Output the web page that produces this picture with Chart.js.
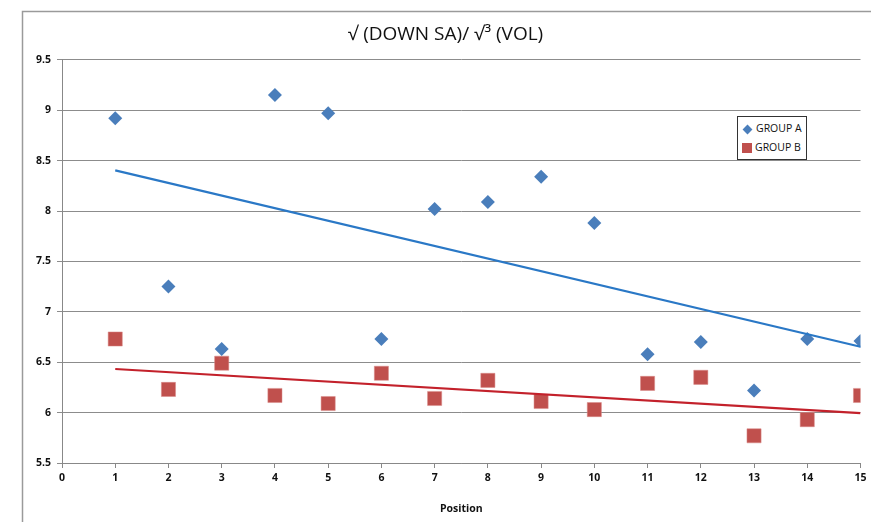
<!DOCTYPE html>
<html>
<head>
<meta charset="utf-8">
<script src="https://cdn.jsdelivr.net/npm/chart.js@4/dist/chart.umd.min.js"></script>
<style>
  html, body { margin: 0; padding: 0; background: #fff; }
  #wrap { position: relative; width: 871px; height: 522px; }
  #legend {
    position: absolute; left: 737px; top: 116px;
    border: 1px solid #333; background: #fff;
    padding: 2px 4px 2px 4px;
    font-family: "Open Sans", "Liberation Sans", sans-serif; font-size: 10.5px; color: #111;
  }
  #legend div { height: 19px; line-height: 19px; white-space: nowrap; }
  #legend span.mk { display: inline-block; vertical-align: middle; margin-right: 3px; }
</style>
</head>
<body>
<div id="wrap">
  <canvas id="chart" width="871" height="522"></canvas>
  <div id="legend"></div>
</div>
<script>
// posizioni (asse x)
var positions = [1, 2, 3, 4, 5, 6, 7, 8, 9, 10, 11, 12, 13, 14, 15];
// valori
var groupA = [8.92, 7.25, 6.63, 9.15, 8.97, 6.73, 8.02, 8.09, 8.34, 7.88, 6.58, 6.70, 6.22, 6.73, 6.71];
var groupB = [6.73, 6.23, 6.49, 6.17, 6.09, 6.39, 6.14, 6.32, 6.11, 6.03, 6.29, 6.35, 5.77, 5.93, 6.17];
var seriesLabels = ['GROUP A', 'GROUP B'];
var chartTitle = '\u221A (DOWN SA)/ \u221A\u00B3 (VOL)';
var xTitle = 'Position';

var blue = '#4a7ebb';
var red = '#c0504d';

function toPoints(xs, ys) {
  return xs.map(function (x, i) { return { x: x, y: ys[i] }; });
}

// linea di tendenza lineare (minimi quadrati), come in Excel
function trend(xs, ys) {
  var n = xs.length, sx = 0, sy = 0, sxy = 0, sxx = 0;
  for (var i = 0; i < n; i++) {
    sx += xs[i]; sy += ys[i]; sxy += xs[i] * ys[i]; sxx += xs[i] * xs[i];
  }
  var m = (n * sxy - sx * sy) / (n * sxx - sx * sx);
  var b = (sy - m * sx) / n;
  var x0 = xs[0], x1 = xs[n - 1];
  return [{ x: x0, y: m * x0 + b }, { x: x1, y: m * x1 + b }];
}

// cornice esterna del grafico
var framePlugin = {
  id: 'frame',
  beforeDraw: function (chart) {
    var ctx = chart.ctx;
    ctx.save();
    ctx.strokeStyle = '#9a9a9a';
    ctx.lineWidth = 1.5;
    ctx.beginPath();
    ctx.moveTo(22.5, 530);
    ctx.lineTo(22.5, 11.5);
    ctx.lineTo(880, 11.5);
    ctx.stroke();
    ctx.restore();
  }
};

var fontFam = '"Open Sans", "Liberation Sans", sans-serif';

new Chart(document.getElementById('chart').getContext('2d'), {
  type: 'scatter',
  data: {
    datasets: [{
      label: seriesLabels[0],
      data: toPoints(positions, groupA),
      pointStyle: 'rectRot',
      pointRadius: 7,
      backgroundColor: blue,
      borderColor: blue,
      borderWidth: 0,
      order: 2
    }, {
      label: seriesLabels[1],
      data: toPoints(positions, groupB),
      pointStyle: 'rect',
      pointRadius: 10,
      backgroundColor: red,
      borderColor: '#d98a88',
      borderWidth: 0.5,
      order: 2
    }, {
      label: 'trend A',
      data: trend(positions, groupA),
      showLine: true,
      borderColor: '#2a78c6',
      borderWidth: 2.2,
      pointRadius: 0,
      order: 1
    }, {
      label: 'trend B',
      data: trend(positions, groupB),
      showLine: true,
      borderColor: '#c3212b',
      borderWidth: 2.2,
      pointRadius: 0,
      order: 1
    }]
  },
  options: {
    responsive: false,
    animation: false,
    layout: { padding: { left: 22, right: 2, top: 0, bottom: 7 } },
    plugins: {
      legend: { display: false },
      tooltip: { enabled: false },
      title: {
        display: true,
        text: chartTitle,
        color: '#111',
        font: { family: fontFam, size: 19, weight: 'normal' },
        padding: { top: 23, bottom: 14 }
      }
    },
    scales: {
      x: {
        type: 'linear',
        min: 0,
        max: 15,
        ticks: {
          stepSize: 1,
          color: '#111',
          font: { family: fontFam, size: 10.5, weight: 'bold' },
          padding: 4
        },
        grid: { drawOnChartArea: false, drawTicks: true, tickLength: 5, color: '#888' },
        border: { color: '#888', width: 1 },
        title: {
          display: true,
          text: xTitle,
          color: '#111',
          font: { family: fontFam, size: 10.5, weight: 'bold' },
          padding: { top: 4, bottom: 0 }
        },
        afterFit: function (s) { s.height = 52; }
      },
      y: {
        min: 5.5,
        max: 9.5,
        ticks: {
          stepSize: 0.5,
          color: '#111',
          font: { family: fontFam, size: 10.5, weight: 'bold' },
          padding: 6,
          callback: function (v) { return String(v); }
        },
        grid: { color: '#8c8c8c', lineWidth: 1, tickLength: 5 },
        border: { color: '#888', width: 1 },
        afterFit: function (s) { s.width = 40; }
      }
    }
  },
  plugins: [framePlugin]
});

// legenda HTML
var legend = document.getElementById('legend');
var marks = [
  '<span class="mk" style="width:7px;height:7px;background:' + blue + ';transform:rotate(45deg);margin-left:2px;margin-right:5px"></span>',
  '<span class="mk" style="width:10px;height:10px;background:' + red + '"></span>'
];
seriesLabels.forEach(function (lab, i) {
  var row = document.createElement('div');
  row.innerHTML = marks[i] + lab;
  legend.appendChild(row);
});
</script>
</body>
</html>
